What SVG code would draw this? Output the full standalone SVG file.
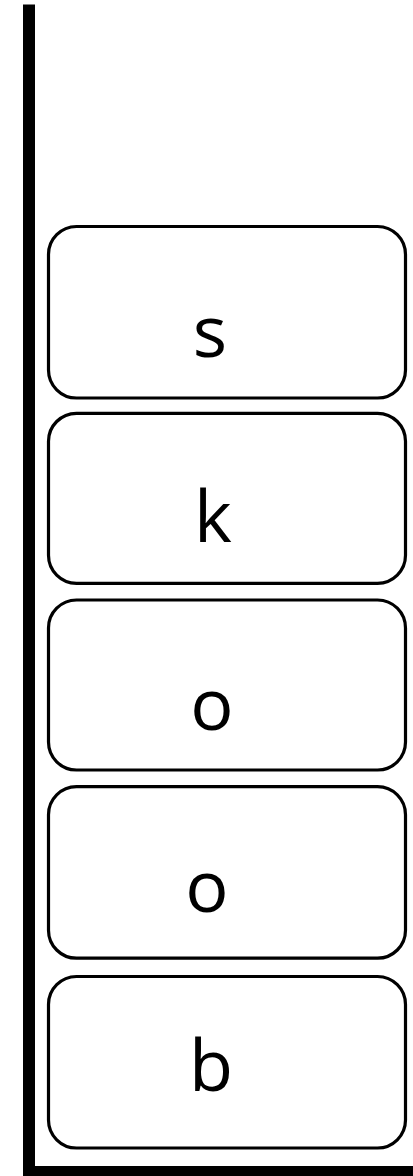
<svg xmlns="http://www.w3.org/2000/svg" width="413" height="1176" viewBox="0 0 413 1176">
<style>
.box{fill:#fff;stroke:#000;stroke-width:3.2}
.lbl{font-family:"Open Sans","Noto Sans",sans-serif;font-size:72px;fill:#000;text-anchor:middle}
.wall{fill:#000}
</style>
<rect width="413" height="1176" fill="#fff"/>
<g id="frame">
<rect class="wall" x="23" y="4.5" width="12" height="1171.5"/>
<rect class="wall" x="23" y="1166" width="390" height="10"/>
</g>
<g id="node-s"><rect class="box" x="48.5" y="226.5" width="357" height="171.5" rx="28"/><text class="lbl" x="210" y="357">s</text></g>
<g id="node-k"><rect class="box" x="48.5" y="413.3" width="357" height="170" rx="28"/><text class="lbl" x="213" y="541.5">k</text></g>
<g id="node-o1"><rect class="box" x="48.5" y="600" width="357" height="170" rx="28"/><text class="lbl" x="212" y="730">o</text></g>
<g id="node-o2"><rect class="box" x="48.5" y="786.7" width="357" height="171.5" rx="28"/><text class="lbl" x="207" y="912">o</text></g>
<g id="node-b"><rect class="box" x="48.5" y="976.5" width="357" height="171.5" rx="28"/><text class="lbl" x="211" y="1091">b</text></g>
<g id="connectors"></g>
</svg>
